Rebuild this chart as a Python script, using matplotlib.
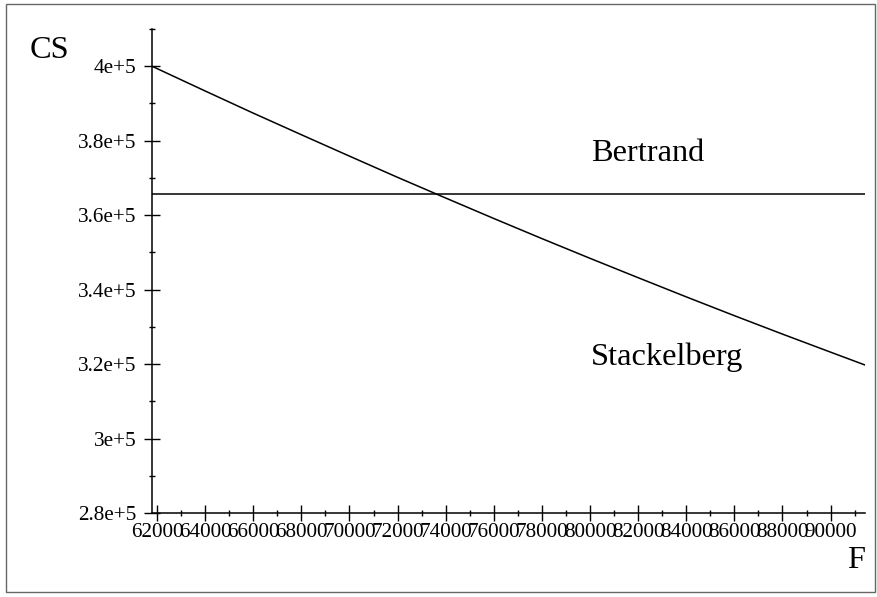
import matplotlib
matplotlib.use("Agg")
import matplotlib.pyplot as plt
from matplotlib.patches import Rectangle
from matplotlib.ticker import MultipleLocator

plt.rcParams['font.family'] = ['Liberation Serif', 'DejaVu Serif']

# data
F = [61790, 64000, 66000, 68000, 70000, 72000, 74000, 76000, 78000,
     80000, 82000, 84000, 86000, 88000, 90000, 91430]
cs_stackelberg = [400000, 393350, 387400, 381600, 375850, 370150, 364600, 359100, 353700,
                  348400, 343200, 338050, 333000, 328050, 323200, 319750]
cs_bertrand = 365800

x_ticks = list(range(62000, 90001, 2000))
y_ticks = [280000, 300000, 320000, 340000, 360000, 380000, 400000]
y_labels = ['2.8e+5', '3e+5', '3.2e+5', '3.4e+5', '3.6e+5', '3.8e+5', '4e+5']

W, H = 878, 597
fig = plt.figure(figsize=(W / 100, H / 100), dpi=100)
ax = fig.add_axes([152 / W, 1 - 513 / H, (865 - 152) / W, (513 - 29) / H])

ax.plot(F, cs_stackelberg, color='black', lw=1.1)
ax.plot([F[0], F[-1]], [cs_bertrand, cs_bertrand], color='black', lw=1.1)

ax.set_xlim(F[0], F[-1])
ax.set_ylim(280000, 410000)

ax.set_xticks(x_ticks)
ax.set_xticklabels([str(v) for v in x_ticks])
ax.set_yticks(y_ticks)
ax.set_yticklabels(y_labels)
ax.xaxis.set_minor_locator(MultipleLocator(1000))
ax.yaxis.set_minor_locator(MultipleLocator(10000))

ax.tick_params(which='major', direction='inout', length=11.5, width=1.0,
               labelsize=15.3, color='black')
ax.tick_params(which='minor', direction='inout', length=5, width=1.0, color='black')
ax.tick_params(axis='x', which='major', pad=1.5)
ax.tick_params(axis='y', which='major', pad=5.5)

for s in ['top', 'right']:
    ax.spines[s].set_visible(False)
for s in ['left', 'bottom']:
    ax.spines[s].set_linewidth(1.1)
ax.patch.set_alpha(0)

# axis titles and curve labels
fig.text(30 / W, 1 - 58.5 / H, 'CS', fontsize=23.3, va='baseline', ha='left')
fig.text(847 / W, 1 - 568 / H, 'F', fontsize=23.3, va='baseline', ha='left')
fig.text(591 / W, 1 - 161 / H, 'Bertrand', fontsize=23.3, va='baseline', ha='left')
fig.text(591 / W, 1 - 365 / H, 'Stackelberg', fontsize=23.3, va='baseline', ha='left')

# thin frame round the figure
fig.patches.append(Rectangle((6 / W, 1 - 592 / H), (875 - 6) / W, (592 - 4) / H,
                             transform=fig.transFigure, fill=False,
                             edgecolor='#666666', lw=1.0))

fig.savefig('out.png', dpi=100)
